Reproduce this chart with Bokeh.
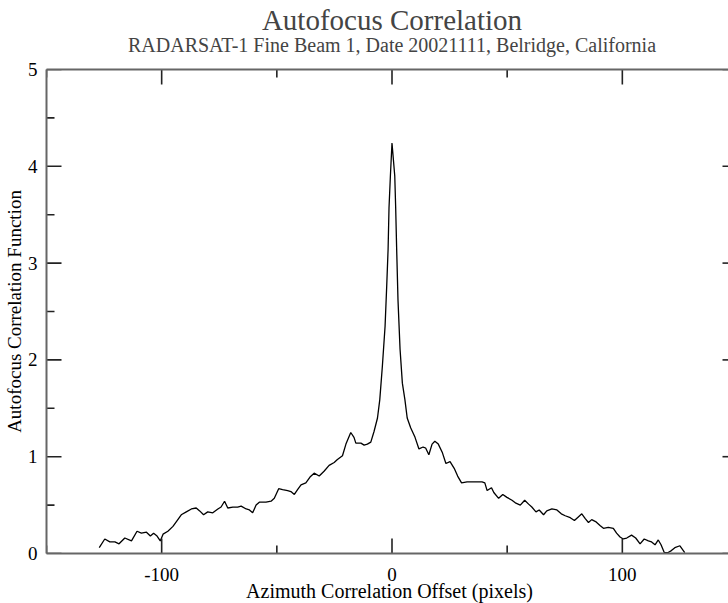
from bokeh.plotting import figure
from bokeh.models import FixedTicker, LinearAxis, Title, Range1d
from bokeh.embed import file_html
from bokeh.resources import INLINE

# ---- data ----
offset = [-127.1, -124.7, -122.5, -120.3, -118.5, -116.0, -113.1, -110.7, -108.8, -106.6,
          -104.9, -103.5, -102.0, -100.6, -99.4, -97.3, -95.1, -93.6, -91.5, -89.3,
          -87.1, -85.0, -83.5, -81.8, -80.0, -77.8, -75.6, -74.2, -72.7, -71.3,
          -69.1, -67.0, -65.5, -63.3, -61.9, -60.5, -59.0, -57.6, -54.7, -52.5,
          -51.1, -49.2, -47.5, -45.3, -43.9, -42.4, -41.0, -39.5, -37.4, -35.6,
          -33.8, -31.6, -29.5, -27.3, -25.1, -23.7, -21.5, -20.0, -17.9, -16.5,
          -15.7, -13.5, -12.1, -10.7, -9.2, -7.8, -6.3, -5.3, -4.2, -3.0,
          -2.3, -1.7, -1.3, -0.7, 0.0, 1.2, 1.6, 2.0, 2.6, 3.5,
          4.5, 5.6, 6.6, 8.1, 10.0, 11.7, 13.5, 14.6, 16.0, 17.4,
          18.6, 20.1, 21.9, 23.4, 25.2, 27.0, 28.5, 30.2, 32.6, 34.8,
          36.9, 39.1, 40.3, 41.3, 43.2, 44.2, 46.3, 48.1, 49.9, 52.1,
          53.8, 55.7, 57.6, 59.3, 60.7, 62.5, 63.9, 65.8, 67.2, 69.4,
          71.6, 73.5, 75.2, 77.4, 79.2, 81.0, 82.4, 83.9, 85.3, 86.7,
          88.4, 90.3, 91.8, 93.9, 96.1, 97.5, 99.0, 100.4, 101.9, 104.0,
          105.8, 107.7, 109.5, 111.3, 112.7, 114.2, 115.6, 116.8, 118.2, 119.9,
          121.3, 122.8, 125.0, 127.1]
acf = [0.06, 0.15, 0.12, 0.12, 0.10, 0.16, 0.13, 0.23, 0.21, 0.22,
       0.18, 0.21, 0.18, 0.13, 0.20, 0.23, 0.28, 0.33, 0.40, 0.43,
       0.46, 0.47, 0.44, 0.40, 0.43, 0.42, 0.46, 0.48, 0.54, 0.47,
       0.48, 0.48, 0.49, 0.46, 0.45, 0.42, 0.50, 0.53, 0.53, 0.54,
       0.57, 0.67, 0.66, 0.65, 0.64, 0.61, 0.66, 0.71, 0.73, 0.79,
       0.83, 0.80, 0.85, 0.91, 0.94, 0.97, 1.01, 1.13, 1.25, 1.20,
       1.14, 1.14, 1.12, 1.13, 1.15, 1.26, 1.40, 1.59, 1.93, 2.35,
       2.76, 3.14, 3.57, 3.90, 4.24, 3.90, 3.57, 3.17, 2.62, 2.11,
       1.76, 1.59, 1.40, 1.30, 1.20, 1.08, 1.10, 1.09, 1.02, 1.13,
       1.16, 1.13, 1.04, 0.93, 0.95, 0.88, 0.80, 0.73, 0.74, 0.74,
       0.74, 0.74, 0.73, 0.65, 0.68, 0.63, 0.57, 0.61, 0.58, 0.55,
       0.52, 0.50, 0.55, 0.51, 0.48, 0.43, 0.45, 0.40, 0.44, 0.46,
       0.45, 0.41, 0.39, 0.37, 0.34, 0.38, 0.41, 0.36, 0.32, 0.35,
       0.33, 0.29, 0.26, 0.27, 0.26, 0.21, 0.17, 0.15, 0.16, 0.19,
       0.16, 0.10, 0.15, 0.13, 0.12, 0.09, 0.14, 0.09, 0.01, 0.01,
       0.03, 0.06, 0.08, 0.01]

x_range = [-150, 150]
y_range = [0, 5]
x_ticks = [-100, 0, 100]
x_tick_labels = ["-100", "0", "100"]
x_minor_ticks = [-150, -50, 50, 150]
y_ticks = [0, 1, 2, 3, 4, 5]
y_tick_labels = ["0", "1", "2", "3", "4", "5"]
y_minor_ticks = [0.5, 1.5, 2.5, 3.5, 4.5]

title_text = "Autofocus Correlation"
subtitle_text = "RADARSAT-1 Fine Beam 1, Date 20021111, Belridge, California"
x_label = "Azimuth Correlation Offset  (pixels)"
y_label = "Autofocus Correlation Function"

FONT = "Liberation Serif"
AXIS_COLOR = "#666666"
TICK_COLOR = "#222222"
MAJOR_LEN = 15
MINOR_LEN = 8

p = figure(frame_width=691, frame_height=484,
           x_range=Range1d(*x_range), y_range=Range1d(*y_range),
           output_backend="svg", toolbar_location=None, title=None,
           min_border_left=0, min_border_right=0,
           min_border_top=0, min_border_bottom=0)
p.outline_line_color = None
p.xgrid.visible = False
p.ygrid.visible = False
p.background_fill_color = None
p.border_fill_color = "white"

p.line(offset, acf, line_color="black", line_width=1.3)

# inward major ticks: screen-length rays starting on each edge
ray_kw = dict(length_units="screen", angle_units="deg", line_color=TICK_COLOR, line_width=1.6)
p.ray(x=x_ticks, y=[y_range[0]] * len(x_ticks), length=MAJOR_LEN, angle=90, **ray_kw)
p.ray(x=x_ticks, y=[y_range[1]] * len(x_ticks), length=MAJOR_LEN, angle=-90, **ray_kw)
p.ray(x=[x_range[0]] * len(y_ticks), y=y_ticks, length=MAJOR_LEN, angle=0, **ray_kw)
p.ray(x=[x_range[1]] * len(y_ticks), y=y_ticks, length=MAJOR_LEN, angle=180, **ray_kw)

# inward minor ticks: dash markers centred on the edge (outer half clipped by the frame)
dash_kw = dict(marker="dash", size=2 * MINOR_LEN, line_color=TICK_COLOR, line_width=1.6)
p.scatter(x=x_minor_ticks, y=[y_range[0]] * len(x_minor_ticks), angle=90, angle_units="deg", **dash_kw)
p.scatter(x=x_minor_ticks, y=[y_range[1]] * len(x_minor_ticks), angle=90, angle_units="deg", **dash_kw)
p.scatter(x=[x_range[0]] * len(y_minor_ticks), y=y_minor_ticks, **dash_kw)
p.scatter(x=[x_range[1]] * len(y_minor_ticks), y=y_minor_ticks, **dash_kw)


def style_axis(ax, ticks, minor, labels, show_labels=True, pad_out=0):
    ax.ticker = FixedTicker(ticks=ticks, minor_ticks=minor)
    ax.axis_line_color = AXIS_COLOR
    ax.axis_line_width = 2
    ax.major_tick_in = 0
    ax.major_tick_out = pad_out
    ax.minor_tick_in = 0
    ax.minor_tick_out = 0
    ax.major_tick_line_color = None
    ax.minor_tick_line_color = None
    if show_labels:
        ax.major_label_overrides = {t: s for t, s in zip(ticks, labels)}
        ax.major_label_text_font = FONT
        ax.major_label_text_font_size = "19px"
        ax.major_label_text_color = "black"
        ax.axis_label_text_font = FONT
        ax.axis_label_text_font_style = "normal"
        ax.axis_label_text_color = "black"
    else:
        ax.major_label_overrides = {t: "" for t in ticks}
        ax.major_label_text_font_size = "1px"
        ax.major_label_text_color = None
        ax.major_label_standoff = 0
        ax.axis_label = None


xa = p.xaxis[0]
style_axis(xa, x_ticks, x_minor_ticks, x_tick_labels)
xa.axis_label = x_label
xa.axis_label_text_font_size = "20px"
xa.major_label_standoff = 14
xa.axis_label_standoff = -4

ya = p.yaxis[0]
style_axis(ya, y_ticks, y_minor_ticks, y_tick_labels)
ya.axis_label = y_label
ya.axis_label_text_font_size = "19px"
ya.major_label_standoff = 9
ya.axis_label_standoff = 0

top = LinearAxis()
style_axis(top, x_ticks, x_minor_ticks, x_tick_labels, show_labels=False, pad_out=19)
p.add_layout(top, "above")

right = LinearAxis()
style_axis(right, y_ticks, y_minor_ticks, y_tick_labels, show_labels=False)
p.add_layout(right, "right")

p.add_layout(Title(text=subtitle_text, text_font=FONT, text_font_size="20px",
                   text_font_style="normal", align="center", standoff=-10), "above")
p.add_layout(Title(text=title_text, text_font=FONT, text_font_size="29px",
                   text_font_style="normal", align="center", standoff=2), "above")

open("out.html", "w").write(file_html(p, INLINE))
